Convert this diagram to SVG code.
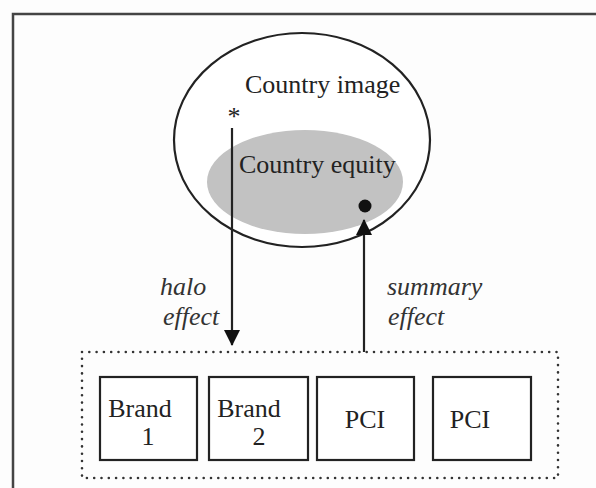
<svg xmlns="http://www.w3.org/2000/svg" width="596" height="488" viewBox="0 0 596 488">
  <defs>
    <style>
      .lbl { font-family: "Liberation Serif", "Times New Roman", serif; font-size: 26px; fill: #222; }
      .it { font-style: italic; fill: #333; }
      .box { fill: #fff; stroke: #222; stroke-width: 2.2; }
      .conn { stroke: #222; stroke-width: 2.2; fill: none; }
    </style>
    <marker id="arrow" viewBox="0 0 16 16" refX="15" refY="8" markerWidth="16" markerHeight="16" markerUnits="userSpaceOnUse" orient="auto">
      <path d="M0,0 L16,8 L0,16 z" fill="#111"/>
    </marker>
  </defs>

  <rect width="596" height="488" fill="#fdfdfd"/>

  <!-- outer frame: top and left edges only -->
  <path d="M596,14 L13,14 L13,488" fill="none" stroke="#444" stroke-width="2.5"/>

  <g id="country-image">
    <ellipse cx="302" cy="140" rx="128" ry="107" fill="#fff" stroke="#222" stroke-width="2.2"/>
    <text class="lbl" x="245" y="93">Country image</text>
  </g>

  <g id="country-equity">
    <ellipse cx="305" cy="182" rx="98" ry="52" fill="#c2c2c2"/>
    <text class="lbl" x="239" y="173" fill="#111">Country equity</text>
    <circle cx="365" cy="206" r="6.5" fill="#111"/>
  </g>

  <text class="lbl" x="234" y="125" text-anchor="middle" font-size="22">*</text>

  <g id="portfolio">
    <rect x="82" y="352" width="476" height="126" fill="none" stroke="#333" stroke-width="2.6" stroke-dasharray="0 7.3" stroke-linecap="round"/>
  </g>

  <g id="brand1">
    <rect class="box" x="100" y="377" width="97" height="83"/>
    <text class="lbl" x="140" y="417" text-anchor="middle">Brand</text>
    <text class="lbl" x="148" y="445" text-anchor="middle">1</text>
  </g>
  <g id="brand2">
    <rect class="box" x="209" y="377" width="99" height="83"/>
    <text class="lbl" x="249" y="417" text-anchor="middle">Brand</text>
    <text class="lbl" x="259" y="445" text-anchor="middle">2</text>
  </g>
  <g id="pci1">
    <rect class="box" x="317" y="377" width="97" height="83"/>
    <text class="lbl" x="365" y="428" text-anchor="middle">PCI</text>
  </g>
  <g id="pci2">
    <rect class="box" x="433" y="377" width="98" height="83"/>
    <text class="lbl" x="470" y="428" text-anchor="middle">PCI</text>
  </g>

  <g id="connectors">
    <line class="conn" x1="232" y1="128" x2="232" y2="345" marker-end="url(#arrow)"/>
    <line class="conn" x1="364" y1="352" x2="364" y2="220" marker-end="url(#arrow)"/>
    <text class="lbl it" x="160" y="295">halo</text>
    <text class="lbl it" x="163" y="325">effect</text>
    <text class="lbl it" x="387" y="295">summary</text>
    <text class="lbl it" x="388" y="325">effect</text>
  </g>
</svg>
